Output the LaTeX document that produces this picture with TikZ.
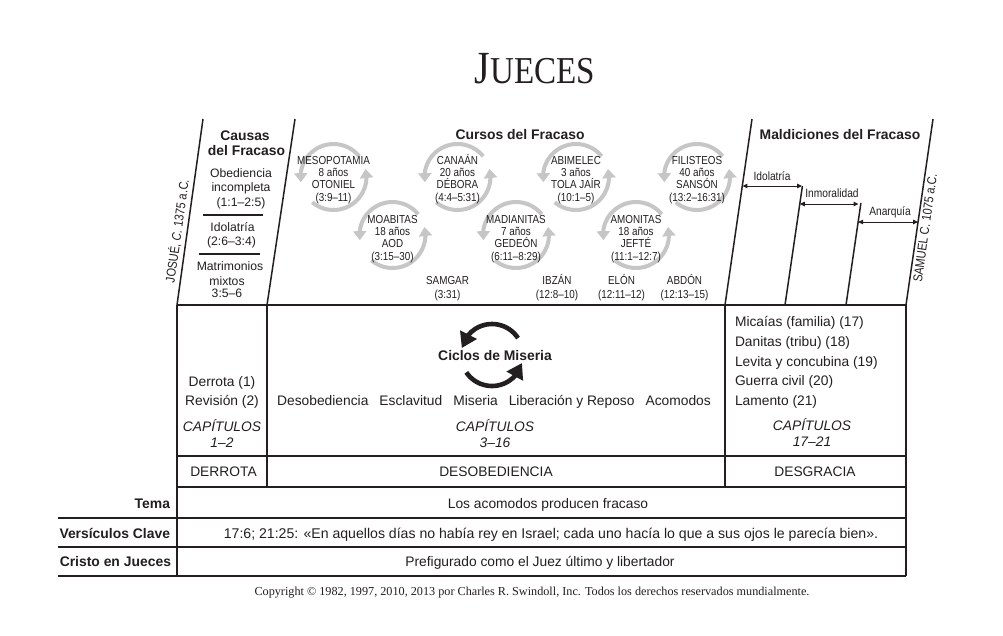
\documentclass[tikz,border=0pt]{standalone}
\usepackage{fontspec}
\setmainfont{Liberation Sans}
\newfontfamily\cond[FakeStretch=0.85]{Liberation Sans}
\newfontfamily\serifont{Liberation Serif}
\newfontfamily\titlefont[FakeStretch=0.87]{Liberation Serif}
\usetikzlibrary{arrows.meta,bending}
\definecolor{ink}{RGB}{35,31,32}
\definecolor{cycgrey}{RGB}{198,198,198}
\tikzset{
  tx/.style={inner sep=0pt, outer sep=0pt, text=ink},
  cyct/.style={tx, anchor=base, font=\cond\fontsize{11.6}{12}\selectfont},
  hdr/.style={tx, anchor=base, font=\bfseries\fontsize{13.9}{15}\selectfont},
  body/.style={tx, anchor=base, font=\fontsize{13.8}{15}\selectfont},
  cause/.style={tx, anchor=base, font=\fontsize{12.2}{14}\selectfont},
  chap/.style={tx, anchor=base, font=\itshape\fontsize{13.8}{15}\selectfont},
  lbl/.style={tx, anchor=base, font=\cond\fontsize{12}{13}\selectfont},
  tbl/.style={draw=ink, line width=1.8pt},
  slantline/.style={draw=ink, line width=1.5pt},
  crule/.style={draw=ink, line width=2pt},
  greyarc/.style={draw=cycgrey, line width=4pt, -{Triangle[flex, length=9pt, width=13pt]}},
  blackarc/.style={draw=ink, line width=4.6pt, -{Triangle[flex, length=15pt, width=18pt]}},
  spanarrow/.style={draw=ink, line width=1pt, {Triangle[length=5pt,width=4.5pt]}-{Triangle[length=5pt,width=4.5pt]}},
}
% grey cycle: name, x, y(px, downward)
\newcommand\greycyc[3]{%
  \coordinate (#1) at (#2,-#3);
  \draw[greyarc] ([shift={(39:33pt)}]#1) arc[start angle=39,end angle=189,radius=33pt];
  \draw[greyarc] ([shift={(230:33pt)}]#1) arc[start angle=230,end angle=374,radius=33pt];
}
% cycle text: name, x, first baseline, four lines
\newcommand\cyctext[7]{%
  \node[cyct] (#1a) at (#2,-#3) {#4};
  \node[cyct] (#1b) at (#2,-#3-12.3) {#5};
  \node[cyct] (#1c) at (#2,-#3-24.6) {#6};
  \node[cyct] (#1d) at (#2,-#3-36.9) {#7};
}
\begin{document}
\begin{tikzpicture}[x=1pt,y=1pt]
\fill[white] (0,0) rectangle (1003,-635);
\useasboundingbox (0,0) rectangle (1003,-635);

% ---------- title
\node[tx, anchor=base] (title) at (535,-83)
  {\titlefont\fontsize{46}{46}\selectfont J\fontsize{38}{38}\selectfont UECES};

% ---------- slanted lines of the top band
\coordinate (L1t) at (203,-119); \coordinate (L1b) at (177,-305);
\coordinate (L2t) at (295,-119); \coordinate (L2b) at (267,-305);
\coordinate (R1t) at (752,-119); \coordinate (R1b) at (725,-305);
\coordinate (R2t) at (933,-119); \coordinate (R2b) at (906,-305);
\coordinate (I1t) at (802.4,-186); \coordinate (I1b) at (785,-305);
\coordinate (I2t) at (860.9,-203); \coordinate (I2b) at (846,-305);
\draw[slantline] (L1t) -- (L1b);
\draw[slantline] (L2t) -- (L2b);
\draw[slantline] (R1t) -- (R1b);
\draw[slantline] (R2t) -- (R2b);
\draw[slantline] (I1t) -- (I1b);
\draw[slantline] (I2t) -- (I2b);

% ---------- span arrows (maldiciones)
\coordinate (A1l) at (742.4,-186); \coordinate (A1r) at (802,-186);
\coordinate (A2l) at (799.8,-204); \coordinate (A2r) at (858.5,-204);
\coordinate (A3l) at (858.1,-222); \coordinate (A3r) at (918.1,-222);
\draw[spanarrow] (A1l) -- (A1r);
\draw[spanarrow] (A2l) -- (A2r);
\draw[spanarrow] (A3l) -- (A3r);
\node[lbl] (idol) at (772,-180) {Idolatría};
\node[lbl] (inmor) at (832,-197.5) {Inmoralidad};
\node[lbl] (anarq) at (890,-215) {Anarquía};

% ---------- headers
\node[hdr] (causas1) at (245,-140) {Causas};
\node[hdr] (causas2) at (246.5,-155) {del Fracaso};
\node[hdr] (cursos) at (520,-139) {Cursos del Fracaso};
\node[hdr] (maldic) at (840,-139) {Maldiciones del Fracaso};

% ---------- side dates
\node[tx, rotate=82, font=\cond\fontsize{12.9}{13}\selectfont] (josue) at (177,-231) {JOSUÉ, \textit{C.} 1375 a.C.};
\node[tx, rotate=82, font=\cond\fontsize{12.9}{13}\selectfont] (samuel) at (925,-228) {SAMUEL C. 1075 a.C.};

% ---------- causas column
\node[cause] (c1a) at (241,-177.4) {Obediencia};
\node[cause] (c1b) at (241,-191.8) {incompleta};
\node[cause] (c1c) at (241,-206.3) {(1:1–2:5)};
\coordinate (cr1a) at (203,-215); \coordinate (cr1b) at (263,-215);
\draw[crule] (cr1a) -- (cr1b);
\node[cause] (c2a) at (232.5,-231.4) {Idolatría};
\node[cause] (c2b) at (231.5,-245.4) {(2:6–3:4)};
\coordinate (cr2a) at (199,-254); \coordinate (cr2b) at (260,-254);
\draw[crule] (cr2a) -- (cr2b);
\node[cause] (c3a) at (230,-270.4) {Matrimonios};
\node[cause] (c3b) at (227,-285.6) {mixtos};
\node[cause] (c3c) at (227,-297.6) {3:5–6};

% ---------- grey cycles
\greycyc{g1}{333.5}{177}
\greycyc{g2}{457.5}{177}
\greycyc{g3}{576}{177}
\greycyc{g4}{697}{177}
\greycyc{g5}{392.5}{235}
\greycyc{g6}{516}{235}
\greycyc{g7}{636}{235}
\cyctext{meso}{333.5}{164.2}{MESOPOTAMIA}{8 años}{OTONIEL}{(3:9–11)}
\cyctext{cana}{457.5}{164.2}{CANAÁN}{20 años}{DÉBORA}{(4:4–5:31)}
\cyctext{abim}{576}{164.2}{ABIMELEC}{3 años}{TOLA JAÍR}{(10:1–5)}
\cyctext{fili}{697}{164.2}{FILISTEOS}{40 años}{SANSÓN}{(13:2–16:31)}
\cyctext{moab}{392.5}{223.2}{MOABITAS}{18 años}{AOD}{(3:15–30)}
\cyctext{madi}{516}{223.2}{MADIANITAS}{7 años}{GEDEÓN}{(6:11–8:29)}
\cyctext{amon}{636}{223.2}{AMONITAS}{18 años}{JEFTÉ}{(11:1–12:7)}

% ---------- minor judges
\node[cyct] (samg1) at (447.5,-284) {SAMGAR};
\node[cyct] (samg2) at (447.5,-298) {(3:31)};
\node[cyct] (ibz1) at (557,-284) {IBZÁN};
\node[cyct] (ibz2) at (557,-298) {(12:8–10)};
\node[cyct] (elon1) at (621.5,-284) {ELÓN};
\node[cyct] (elon2) at (621.5,-298) {(12:11–12)};
\node[cyct] (abd1) at (684.5,-284) {ABDÓN};
\node[cyct] (abd2) at (684.5,-298) {(12:13–15)};

% ---------- table frame
\coordinate (TL) at (177,-305); \coordinate (TR) at (906,-305);
\coordinate (BL) at (177,-576); \coordinate (BR) at (906,-576);
\coordinate (D1b) at (267,-487); \coordinate (D2b) at (725,-487);
\coordinate (H1l) at (177,-456); \coordinate (H1r) at (906,-456);
\coordinate (H2l) at (177,-487); \coordinate (H2r) at (906,-487);
\coordinate (H3l) at (58,-518); \coordinate (H3r) at (906,-518);
\coordinate (H4l) at (58,-547); \coordinate (H4r) at (906,-547);
\coordinate (H5l) at (58,-576);
\draw[tbl] (TL) -- (TR);
\draw[tbl] (TL) -- (BL);
\draw[tbl] (TR) -- (BR);
\draw[tbl] (L2b) -- (D1b);
\draw[tbl] (R1b) -- (D2b);
\draw[tbl] (H1l) -- (H1r);
\draw[tbl] (H2l) -- (H2r);
\draw[tbl] (H3l) -- (H3r);
\draw[tbl] (H4l) -- (H4r);
\draw[tbl] (H5l) -- (BR);

% ---------- left section
\node[body] (derr) at (222,-386) {Derrota (1)};
\node[body] (revi) at (222,-405) {Revisión (2)};
\node[chap] (capA) at (222,-431) {CAPÍTULOS};
\node[chap] (capAn) at (222,-447) {1–2};

% ---------- middle section
\coordinate (cm) at (492,-355);
\draw[blackarc] ([shift={(33:31pt)}]cm) arc[start angle=33,end angle=167,radius=31pt];
\draw[blackarc] ([shift={(214:31pt)}]cm) arc[start angle=214,end angle=345,radius=31pt];
\node[hdr] (ciclos) at (495,-360) {Ciclos de Miseria};
\node[body] (pasos) at (494,-405) {Desobediencia\hspace{11pt}Esclavitud\hspace{11pt}Miseria\hspace{11pt}Liberación y Reposo\hspace{11pt}Acomodos};
\node[chap] (capB) at (495,-431) {CAPÍTULOS};
\node[chap] (capBn) at (495,-447) {3–16};

% ---------- right section
\node[body, anchor=base west] (r1) at (735,-326.6) {Micaías (familia) (17)};
\node[body, anchor=base west] (r2) at (735,-346.3) {Danitas (tribu) (18)};
\node[body, anchor=base west] (r3) at (735,-366) {Levita y concubina (19)};
\node[body, anchor=base west] (r4) at (735,-385.7) {Guerra civil (20)};
\node[body, anchor=base west] (r5) at (735,-405.3) {Lamento (21)};
\node[chap] (capC) at (812,-430.5) {CAPÍTULOS};
\node[chap] (capCn) at (812,-446.5) {17–21};

% ---------- summary rows
\node[body] (derrota) at (223.5,-476) {DERROTA};
\node[body] (desob) at (496,-476) {DESOBEDIENCIA};
\node[body] (desgr) at (815,-476) {DESGRACIA};

\node[hdr, anchor=base east] (tema) at (170,-508) {Tema};
\node[hdr, anchor=base east] (versic) at (170,-538) {Versículos Clave};
\node[hdr, anchor=base east] (cristo) at (171,-566.5) {Cristo en Jueces};

\node[body] (temaT) at (548,-508) {Los acomodos producen fracaso};
\node[body, font=\fontsize{14.1}{15}\selectfont] (versT) at (551,-538) {17:6; 21:25: «En aquellos días no había rey en Israel; cada uno hacía lo que a sus ojos le parecía bien».};
\node[body] (cristoT) at (540,-566.5) {Prefigurado como el Juez último y libertador};

% ---------- copyright
\node[tx, anchor=base, font=\serifont\fontsize{12.2}{13}\selectfont] (copy) at (532,-595.5)
  {Copyright © 1982, 1997, 2010, 2013 por Charles R. Swindoll, Inc. Todos los derechos reservados mundialmente.};
\end{tikzpicture}
\end{document}
